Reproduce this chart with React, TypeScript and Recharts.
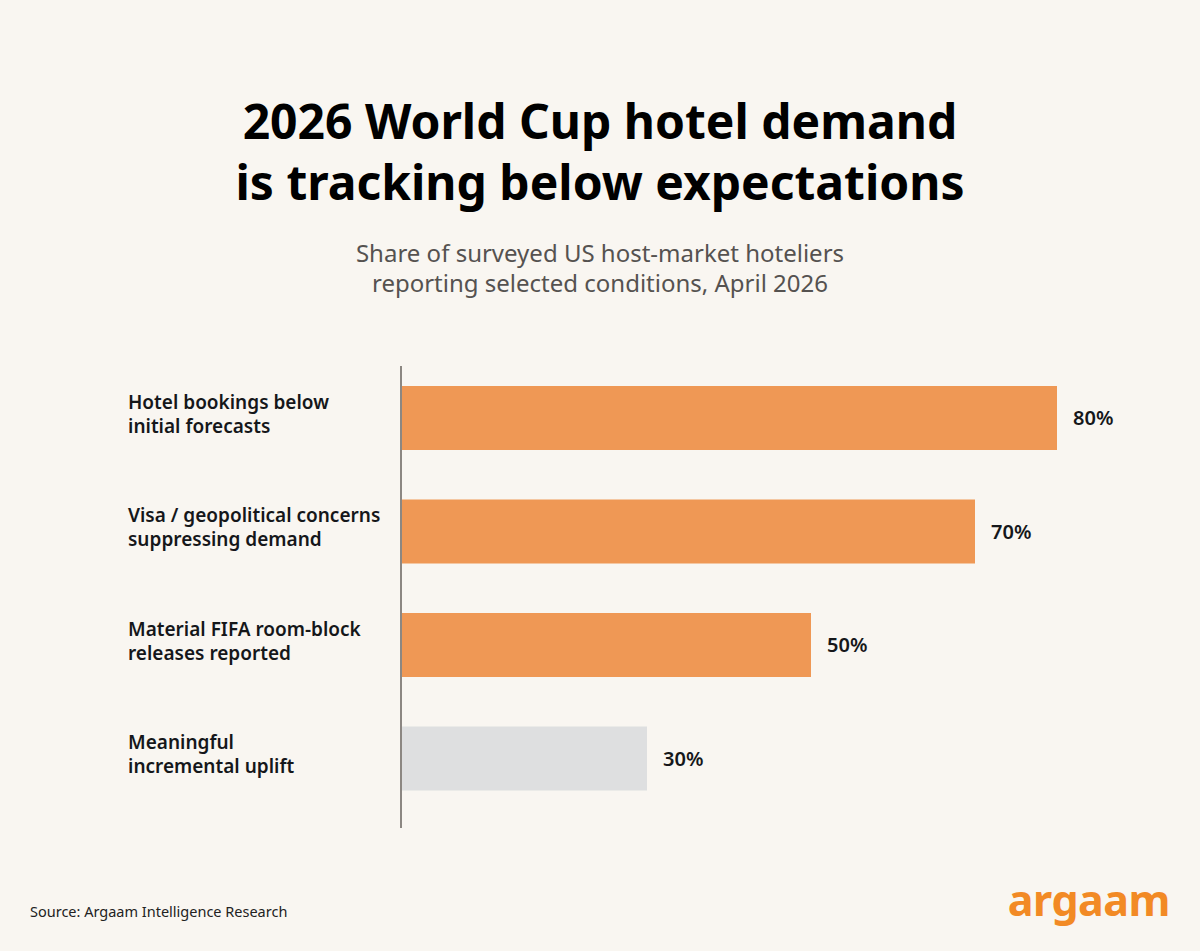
import React from 'react'
import { BarChart, Bar, XAxis, YAxis, Cell, LabelList } from 'recharts'

const conditions = [
  ['Hotel bookings below', 'initial forecasts'],
  ['Visa / geopolitical concerns', 'suppressing demand'],
  ['Material FIFA room-block', 'releases reported'],
  ['Meaningful', 'incremental uplift'],
]
const shares = [80, 70, 50, 30]
const highlighted = [true, true, true, false]

const data = conditions.map((lines, i) => ({
  key: lines.join(' '),
  lines,
  share: shares[i],
  highlight: highlighted[i],
}))

const FONT = '"Noto Sans", Roboto, sans-serif'
const ORANGE = '#EF9855'
const GREY = '#DEDFE0'
const INK = '#15171a'

function ConditionTick(props: any) {
  const { y, payload } = props
  const row = data.find((d) => d.key === payload.value)
  const lines = row ? row.lines : [payload.value]
  return (
    <text x={128} y={y} fontFamily={FONT} fontSize={19} fontWeight={600} fill={INK}>
      {lines.map((l: string, i: number) => (
        <tspan key={i} x={128} dy={i === 0 ? -(lines.length - 1) * 12 + 3 : 24}>
          {l}
        </tspan>
      ))}
    </text>
  )
}

export default function App() {
  return (
    <div
      style={{
        position: 'fixed',
        top: 0,
        left: 0,
        width: 1200,
        height: 951,
        background: '#F9F6F1',
        fontFamily: FONT,
        overflow: 'hidden',
      }}
    >
      <div
        style={{
          position: 'absolute',
          top: 90,
          left: 0,
          width: 1200,
          textAlign: 'center',
          fontSize: 48,
          fontWeight: 700,
          lineHeight: '61px',
          color: '#000',
        }}
      >
        2026 World Cup hotel demand
        <br />
        is tracking below expectations
      </div>
      <div
        style={{
          position: 'absolute',
          top: 238,
          left: 0,
          width: 1200,
          textAlign: 'center',
          fontSize: 24,
          lineHeight: '30px',
          color: '#555250',
        }}
      >
        Share of surveyed US host-market hoteliers
        <br />
        reporting selected conditions, April 2026
      </div>

      <div style={{ position: 'absolute', top: 0, left: 0 }}>
        <BarChart
          width={1200}
          height={951}
          data={data}
          layout="vertical"
          margin={{ top: 361, right: 61, bottom: 136, left: 0 }}
        >
          <XAxis type="number" domain={[0, 90]} hide />
          <YAxis
            type="category"
            dataKey="key"
            width={401}
            axisLine={false}
            tickLine={false}
            tick={<ConditionTick />}
          />
          <Bar dataKey="share" barSize={64} isAnimationActive={false}>
            {data.map((d, i) => (
              <Cell key={i} fill={d.highlight ? ORANGE : GREY} />
            ))}
            <LabelList
              dataKey="share"
              position="right"
              offset={16}
              formatter={(v: any) => `${v}%`}
              style={{ fontFamily: FONT, fontSize: 20, fontWeight: 600, fill: INK }}
            />
          </Bar>
        </BarChart>
      </div>

      {/* category axis rule */}
      <div
        style={{
          position: 'absolute',
          left: 400,
          top: 366,
          width: 2,
          height: 462,
          background: '#8C8782',
        }}
      />

      <div
        style={{
          position: 'absolute',
          left: 30,
          top: 901,
          fontSize: 14.5,
          color: '#222',
        }}
      >
        Source: Argaam Intelligence Research
      </div>
      <div
        style={{
          position: 'absolute',
          right: 30,
          top: 870,
          fontSize: 43,
          fontWeight: 700,
          letterSpacing: -0.5,
          color: '#F28A25',
        }}
      >
        argaam
      </div>
    </div>
  )
}
